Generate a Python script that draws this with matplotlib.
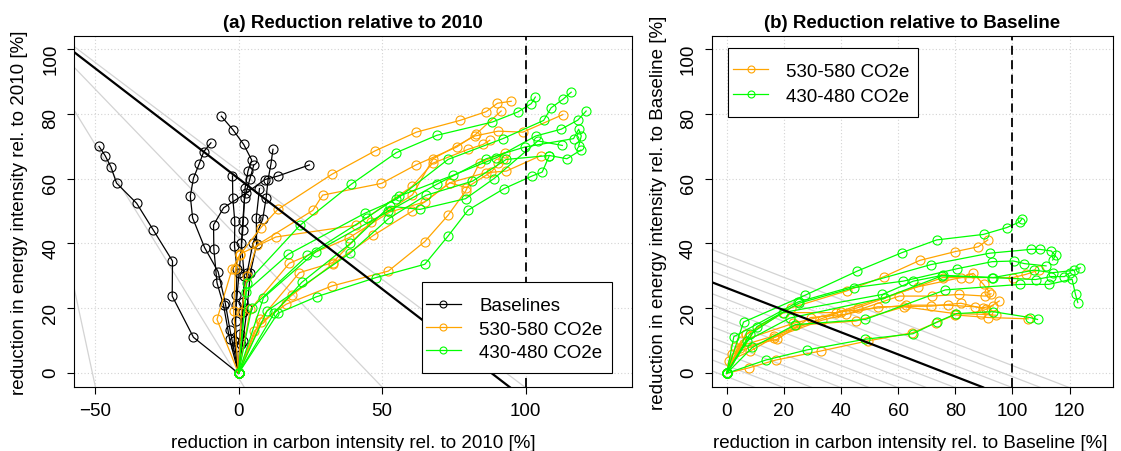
import numpy as np
import matplotlib
matplotlib.use("Agg")
import matplotlib.pyplot as plt
from matplotlib.lines import Line2D
from matplotlib.patches import Rectangle

plt.rcParams['font.family'] = ['Liberation Sans', 'DejaVu Sans']

# ---- panel (a): reduction relative to 2010 (carbon intensity, energy intensity) ----
base_ci = [
    [0, -15.7, -23.1, -23.0, -29.8, -35.5, -42.5, -44.4, -46.5, -48.6],
    [0, -3.0, -4.6, -7.1, -11.8, -16.0, -16.8, -15.7, -13.7, -12.1, -9.6],
    [0, -1.5, -0.8, 0.2, 1.5, 2.3, 3.3, 4.6, 1.8, -2.0, -6.0],
    [0, 0.5, 1.5, 3.0, 5.0, 8.4, 9.6, 10.3, 11.3, 12.0],
    [0, -3.1, -5.2, -7.5, -8.6, -8.7, -5.2, 2.6, 9.2, 13.8, 24.7],
    [0, -0.8, -1.0, -0.8, -0.5, -1.4, -1.3, -2.0, -2.1],
    [0, 1.0, 1.5, 2.0, 1.0, 1.5, 2.1, 4.0, 5.3],
    [0, 1.5, 3.0, 4.1, 6.3, 6.2, 7.3],
]
base_ei = [
    [0, 11.1, 23.8, 34.6, 44.3, 52.4, 58.6, 63.5, 67.1, 69.9],
    [0, 13.5, 21.6, 31.3, 38.7, 47.9, 54.6, 60.1, 64.5, 68.3, 71.0],
    [0, 10, 21, 31, 44.3, 57.2, 62.3, 65.7, 70.5, 75.1, 79.2],
    [0, 12, 22, 31, 40, 47.4, 53.9, 59.7, 64.5, 69.0],
    [0, 10.5, 20.9, 27.9, 38.4, 45.7, 51.0, 55.5, 59.7, 60.8, 64.2],
    [0, 8, 16, 24, 32, 39.2, 46.8, 54.1, 60.8],
    [0, 9, 19, 30, 40, 47, 54, 60, 64.1],
    [0, 10, 20, 30.8, 39.7, 48.0, 56.9],
]

o550_ci = [
    [0, -7.5, -2.3, 0.6, 7.8, 13.7, 32.5, 47.5, 62.0, 77.1, 86.3, 90.2, 95.0],
    [0, 1.0, 3.0, 6.4, 25.9, 29.3, 49.8, 61.8, 76.0, 82.6, 91.5],
    [0, 4.1, 17.7, 38.6, 52.7, 64.9, 73.6, 86.1, 93.3, 105.4],
    [0, 7.9, 16.6, 32.5, 52.2, 64.9, 73.0, 79.1, 84.0, 92.7],
    [0, -1.7, -1.1, 0.4, 13.0, 40.9, 60.6, 67.6, 80.0, 85.2, 87.5],
    [0, 7.5, 21.2, 32.8, 46.0, 60.6, 67.8, 82.3, 90.4, 99.1, 113.0],
    [0, 5.5, 18.5, 33.0, 47.0, 60.6, 73.6, 79.4, 88.0, 92.1, 90.4],
]
o550_ei = [
    [0, 16.6, 32.0, 36.6, 44.9, 50.5, 61.3, 68.5, 74.3, 77.9, 80.6, 83.2, 83.8],
    [0, 19.0, 30.0, 39.5, 50.2, 54.9, 58.5, 64.2, 69.7, 73.6, 80.8],
    [0, 19.7, 33.9, 41.8, 49.7, 52.8, 58.7, 61.8, 62.3, 67.1],
    [0, 15.8, 21.3, 26.9, 31.5, 40.6, 48.7, 56.1, 64.9, 68.0],
    [0, 19.2, 32.0, 36.7, 42.0, 45.6, 57.7, 64.7, 69.0, 70.5, 71.8],
    [0, 16.6, 31.0, 34.1, 46.5, 55.0, 66.1, 73.1, 74.6, 74.3, 79.7],
    [0, 13.0, 24.0, 33.8, 42.5, 50.0, 58.7, 57.2, 62.0, 66.0, 64.9],
]

g450_ci = [
    [0, 2.9, 21.4, 39.2, 55.0, 69.0, 88.4, 97.3, 102.0, 103.4],
    [0, 2.7, 17.4, 44.0, 55.0, 73.0, 92.1, 106.3, 108.9, 113.0, 115.9],
    [0, 4.6, 24.0, 44.6, 56.0, 74.7, 89.8, 103.5, 112.4, 118.2, 121.1],
    [0, 8.7, 27.0, 52.2, 69.0, 86.3, 99.7, 116.7, 118.5, 119.4, 118.5],
    [0, 9.9, 38.8, 52.2, 65.2, 81.5, 93.3, 108.3, 114.4, 119.3],
    [0, 13.7, 27.2, 47.9, 64.9, 73.0, 80.0, 92.5, 102.3, 105.8, 108.3],
    [0, 12.4, 22.0, 39.0, 52.7, 63.2, 79.1, 89.0, 104.3, 112.8],
]
g450_ei = [
    [0, 27.9, 45.6, 58.2, 68.0, 73.3, 77.4, 80.5, 83.1, 85.1],
    [0, 25.2, 36.7, 49.3, 53.6, 65.9, 72.3, 77.9, 81.8, 84.4, 86.6],
    [0, 20.2, 36.3, 47.9, 54.6, 61.0, 66.4, 73.1, 75.2, 78.0, 80.8],
    [0, 23.3, 37.5, 49.9, 58.2, 66.1, 69.7, 72.3, 75.2, 73.1, 70.0],
    [0, 19.2, 37.0, 47.6, 54.8, 59.2, 65.9, 67.1, 66.1, 68.8],
    [0, 18.5, 23.6, 29.5, 33.6, 42.3, 50.3, 56.9, 60.8, 62.0, 67.1],
    [0, 18.5, 28.0, 40.0, 51.5, 50.5, 53.8, 60.0, 71.6, 70.2],
]

# ---- panel (b): reduction relative to baseline ----
o550b_ci = [
    [0, 6.6, 22.6, 42.0, 55.1, 67.6, 80.0, 88.1, 91.4],
    [0, 7.8, 17.2, 33.0, 49.4, 65.0, 73.3, 79.8, 91.5, 105.5],
    [0, 0.7, 8.3, 24.1, 45.2, 62.1, 80.0, 89.0, 94.3],
    [0, 1.9, 16.5, 33.5, 52.8, 71.5, 82.0, 90.8, 95.4],
    [0, 4.8, 17.7, 29.4, 41.7, 60.4, 72.0, 81.2, 90.5, 92.5],
    [0, 6.9, 20.0, 38.2, 67.1, 82.0, 86.3, 89.9, 91.9],
    [0, 5.0, 23.3, 45.8, 75.6, 84.7, 100.2, 104.8, 109.2],
    [0, 3.0, 16.5, 40.0, 62.7, 77.3, 87.0, 89.6, 93.3],
]
o550b_ei = [
    [0, 12.0, 20.2, 25.4, 29.8, 34.8, 37.5, 39.0, 41.1],
    [0, 1.7, 4.1, 6.9, 10.0, 12.5, 15.6, 18.0, 17.2, 16.8],
    [0, 3.8, 6.9, 14.8, 16.1, 20.5, 18.4, 18.2, 17.9],
    [0, 5.9, 11.0, 16.4, 20.5, 20.7, 21.6, 19.7, 22.3],
    [0, 7.9, 10.5, 17.2, 18.2, 23.8, 23.8, 24.3, 23.8, 24.5],
    [0, 12.0, 18.7, 18.7, 26.7, 29.5, 30.8, 27.4, 25.1],
    [0, 10.0, 15.4, 20.2, 29.5, 29.5, 29.5, 30.5, 31.8],
    [0, 8.0, 11.5, 19.0, 21.0, 21.0, 20.5, 20.2, 20.8],
]

g450b_ci = [
    [0, 5.9, 27.3, 45.7, 61.4, 73.5, 89.9, 98.0, 102.5, 103.4],
    [0, 2.5, 25.0, 71.5, 92.0, 106.5, 109.5, 113.6, 115.1, 114.1],
    [0, 10.6, 25.3, 44.5, 61.8, 80.5, 92.9, 100.4, 104.2, 111.8],
    [0, 8.0, 19.6, 54.5, 65.3, 75.6, 93.3, 107.7, 114.1, 121.4, 123.8],
    [0, 7.0, 22.0, 55.4, 75.2, 92.9, 108.1, 113.6, 118.2, 120.2],
    [0, 9.0, 24.0, 48.5, 76.5, 102.7, 112.7, 120.9, 122.1, 122.9],
    [0, 13.7, 28.0, 48.4, 65.2, 73.6, 80.4, 93.2, 106.1, 108.8],
]
g450b_ei = [
    [0, 15.8, 24.0, 31.5, 37.2, 41.1, 42.8, 44.9, 46.6, 47.6],
    [0, 11.3, 22.0, 33.5, 37.0, 38.2, 38.2, 37.7, 36.3, 34.9],
    [0, 14.4, 21.6, 26.4, 28.4, 32.2, 34.4, 34.6, 33.8, 33.1],
    [0, 12.0, 18.7, 24.3, 28.4, 30.2, 29.5, 31.8, 31.0, 31.7, 32.5],
    [0, 10.0, 17.0, 23.3, 30.0, 29.5, 28.9, 29.8, 29.8, 31.0],
    [0, 8.0, 15.0, 16.6, 25.7, 27.4, 27.4, 29.0, 24.3, 21.8],
    [0, 4.1, 7.2, 10.5, 12.2, 15.8, 18.4, 19.0, 17.2, 16.6],
]

# reference lines (intercept at x=0, slope)
grey_a_icpt = [-209.1, -1.4, 41.7, 62.4]
grey_a_slope = [-4.11, -1.44, -0.918, -0.668]
target_a = (60.0, -0.68)
grey_b_icpt = [-1.0, 2.4, 5.8, 9.2, 12.6, 16.0, 19.4, 22.8, 29.6, 33.0, 36.4]
grey_b_slope = -0.34
target_b = (26.3, -0.341)

C_BASE, C_550, C_450 = 'black', '#FFA500', '#00FF00'
FS = 13.5

fig = plt.figure(figsize=(11.21, 4.52), dpi=100)
ax1 = fig.add_axes([0.0663, 0.1409, 0.4978, 0.7779])
ax2 = fig.add_axes([0.6350, 0.1409, 0.3578, 0.7779])


def draw_traj(ax, xs, ys, col):
    for x, y in zip(xs, ys):
        ax.plot(x, y, color=col, lw=0.9, marker='o', ms=6.5, mfc='none',
                mec=col, mew=0.8, zorder=3)


def style(ax, xticks):
    ax.set_ylim(-4.3, 104)
    ax.set_xticks(xticks)
    ax.set_yticks([0, 20, 40, 60, 80, 100])
    ax.grid(True, color='#D3D3D3', linestyle=(0, (1, 2)), lw=0.8)
    ax.set_axisbelow(True)
    ax.tick_params(direction='out', length=4.8, width=0.8, labelsize=FS, pad=6)
    ax.tick_params(axis='y', labelrotation=90)
    for s in ax.spines.values():
        s.set_linewidth(0.8)
    ax.axvline(100, color='black', lw=1.3, ls=(0, (5, 3)), zorder=4)


# panel (a)
for b, s in zip(grey_a_icpt, grey_a_slope):
    ax1.axline((0, b), slope=s, color='#D3D3D3', lw=0.9, zorder=1)
draw_traj(ax1, base_ci, base_ei, C_BASE)
draw_traj(ax1, o550_ci, o550_ei, C_550)
draw_traj(ax1, g450_ci, g450_ei, C_450)
ax1.axline((0, target_a[0]), slope=target_a[1], color='black', lw=1.6, zorder=4)
ax1.set_xlim(-57.2, 137.2)
style(ax1, [-50, 0, 50, 100])
ax1.set_title('(a) Reduction relative to 2010', fontweight='bold', fontsize=FS, pad=6)
ax1.set_xlabel('reduction in carbon intensity rel. to 2010 [%]', fontsize=FS, va='center')
ax1.xaxis.set_label_coords(0.5, -0.156)
ax1.set_ylabel('reduction in energy intensity rel. to 2010 [%]', fontsize=FS, va='center')
ax1.yaxis.set_label_coords(-0.098, 0.5)

# panel (b)
for b in grey_b_icpt:
    ax2.axline((0, b), slope=grey_b_slope, color='#D3D3D3', lw=0.9, zorder=1)
draw_traj(ax2, o550b_ci, o550b_ei, C_550)
draw_traj(ax2, g450b_ci, g450b_ei, C_450)
ax2.axline((0, target_b[0]), slope=target_b[1], color='black', lw=1.6, zorder=4)
ax2.set_xlim(-5.2, 135.2)
style(ax2, [0, 20, 40, 60, 80, 100, 120])
ax2.set_title('(b) Reduction relative to Baseline', fontweight='bold', fontsize=FS, pad=6)
ax2.set_xlabel('reduction in carbon intensity rel. to Baseline [%]', fontsize=FS, va='center')
ax2.xaxis.set_label_coords(0.495, -0.156)
ax2.set_ylabel('reduction in energy intensity rel. to Baseline [%]', fontsize=FS, va='center')
ax2.yaxis.set_label_coords(-0.134, 0.5)


def legend_box(ax, entries, box, anchor, spacing):
    x0, y0, x1, y1 = box
    ax.add_patch(Rectangle((x0, y0), x1 - x0, y1 - y0, transform=ax.transAxes,
                           facecolor='white', edgecolor='black', lw=0.8, zorder=6))
    handles = [Line2D([], [], color=c, lw=0.9, marker='o', ms=5, mfc='none', mec=c, mew=0.8)
               for _, c in entries]
    leg = ax.legend(handles, [n for n, _ in entries], loc='center left', bbox_to_anchor=anchor,
                    frameon=False, fontsize=FS, handlelength=1.87, handletextpad=0.97,
                    labelspacing=spacing, borderpad=0, borderaxespad=0, numpoints=1)
    leg.set_zorder(7)


legend_box(ax1, [('Baselines', C_BASE), ('530-580 CO2e', C_550), ('430-480 CO2e', C_450)],
           (0.6226, 0.0398, 0.9636, 0.300), (0.630, 0.166), 0.32)
legend_box(ax2, [('530-580 CO2e', C_550), ('430-480 CO2e', C_450)],
           (0.0401, 0.768, 0.5138, 0.964), (0.0529, 0.8635), 0.42)

fig.savefig('out.png', dpi=100)
